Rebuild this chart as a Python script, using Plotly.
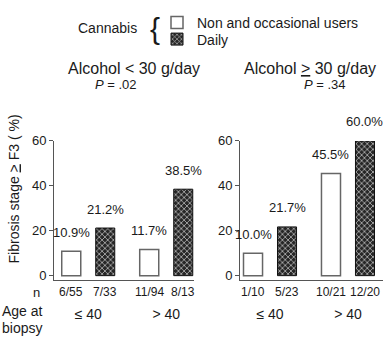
import plotly.graph_objects as go

# Fibrosis stage >= F3 by age at biopsy, alcohol intake and cannabis use
age_groups = ["≤ 40", "> 40"]

pct_low_non = [10.9, 11.7]      # alcohol < 30 g/day, non/occasional cannabis
pct_low_daily = [21.2, 38.5]    # alcohol < 30 g/day, daily cannabis
pct_high_non = [10.0, 45.5]     # alcohol >= 30 g/day, non/occasional cannabis
pct_high_daily = [21.7, 60.0]   # alcohol >= 30 g/day, daily cannabis

n_low_non = ["6/55", "11/94"]
n_low_daily = ["7/33", "8/13"]
n_high_non = ["1/10", "10/21"]
n_high_daily = ["5/23", "12/20"]

p_values = [".02", ".34"]
y_ticks = [0, 20, 40, 60]

W, H = 384, 338
FONT = "Liberation Sans, Arial, sans-serif"
TXT = "#1a1a1a"
AX = "#555555"


def px(x):
    return x / W


def py(y):
    return 1 - y / H


non_style = dict(color="white", line=dict(color="#666666", width=1.5))
daily_style = dict(
    color="#262626",
    line=dict(color="#111111", width=1),
    pattern=dict(shape="x", fgcolor="#bdbdbd", bgcolor="#262626",
                 size=4, solidity=0.35, fillmode="replace"),
)

fig = go.Figure()
fig.add_bar(x=age_groups, y=pct_low_non, name="Non and occasional users",
            marker=non_style, xaxis="x", yaxis="y", showlegend=True,
            legend="legend")
fig.add_bar(x=age_groups, y=pct_low_daily, name="Daily",
            marker=daily_style, xaxis="x", yaxis="y", showlegend=True,
            legend="legend2")
fig.add_bar(x=age_groups, y=pct_high_non, name="Non and occasional users",
            marker=non_style, xaxis="x2", yaxis="y2", showlegend=False)
fig.add_bar(x=age_groups, y=pct_high_daily, name="Daily",
            marker=daily_style, xaxis="x2", yaxis="y2", showlegend=False)

y_dom = [py(281), py(138)]
common_x = dict(
    type="category", showline=True, linecolor=AX, linewidth=1,
    ticks="outside", ticklen=22, tickcolor="rgba(0,0,0,0)",
    tickfont=dict(size=14, color=TXT, family=FONT),
    showgrid=False, zeroline=False, fixedrange=True,
)
common_y = dict(
    range=[-1.8, 60], showline=True, linecolor=AX, linewidth=1,
    ticks="outside", ticklen=4, tickcolor=AX, tickvals=y_ticks,
    tickfont=dict(size=13, color=TXT, family=FONT),
    showgrid=False, zeroline=False, domain=y_dom, fixedrange=True,
)
legend_common = dict(
    xanchor="left", yanchor="top",
    font=dict(size=14, color=TXT, family=FONT),
    bgcolor="rgba(0,0,0,0)", itemclick=False, borderwidth=0,
)

fig.update_layout(
    width=W, height=H,
    margin=dict(l=0, r=0, t=0, b=0),
    paper_bgcolor="white", plot_bgcolor="white",
    font=dict(family=FONT, color=TXT),
    barmode="group", bargap=0.128, bargroupgap=0.44,
    xaxis=dict(common_x, domain=[px(54), px(194)], range=[-0.439, 1.356],
               anchor="y"),
    yaxis=dict(common_y, anchor="x"),
    xaxis2=dict(common_x, domain=[px(240), px(383)], range=[-0.385, 1.449],
                anchor="y2"),
    yaxis2=dict(common_y, anchor="x2"),
    legend=dict(legend_common, x=px(157), y=1),
    legend2=dict(legend_common, x=px(157), y=py(17)),
    showlegend=True,
)

ann = []


def label(text, x, y, size=13, xanchor="center", **kw):
    ann.append(dict(text=text, x=px(x), y=py(y), xref="paper", yref="paper",
                    xanchor=xanchor, yanchor="middle", showarrow=False,
                    font=dict(size=size, color=TXT, family=FONT), **kw))


# Legend heading and brace
label("Cannabis", 107, 22, size=14)
label("{", 155, 22, size=30)

# Panel titles and P values
label("Alcohol < 30 g/day", 134, 63, size=16)
label("Alcohol <u>&gt;</u> 30 g/day", 310, 63, size=16)
label(f"<i>P</i> = {p_values[0]}", 116, 80, size=13)
label(f"<i>P</i> = {p_values[1]}", 325, 80, size=13)

# Axis title
label("Fibrosis stage <u>&gt;</u> F3 ( %)", 14, 188, size=14, textangle=-90)

# Row labels under the axes
label("n", 36, 294, size=13)
label("Age at", 0, 313, size=14, xanchor="left")
label("biopsy", 0, 331, size=14, xanchor="left")

SHIFT = 17
panels = [
    ("x", "y", pct_low_non, pct_low_daily, n_low_non, n_low_daily),
    ("x2", "y2", pct_high_non, pct_high_daily, n_high_non, n_high_daily),
]
for xr, yr, p_non, p_daily, n_non, n_daily in panels:
    for i, g in enumerate(age_groups):
        for val, n_txt, dx in ((p_non[i], n_non[i], -SHIFT),
                               (p_daily[i], n_daily[i], SHIFT)):
            ann.append(dict(text=f"{val:.1f}%", x=g, y=val, xref=xr, yref=yr,
                            xshift=dx, yshift=19, showarrow=False,
                            xanchor="center", yanchor="middle",
                            font=dict(size=13, color=TXT, family=FONT)))
            ann.append(dict(text=n_txt, x=g, y=py(294), xref=xr, yref="paper",
                            xshift=dx, showarrow=False,
                            xanchor="center", yanchor="middle",
                            font=dict(size=12, color=TXT, family=FONT)))

fig.update_layout(annotations=ann)
fig.write_html("out.html")
